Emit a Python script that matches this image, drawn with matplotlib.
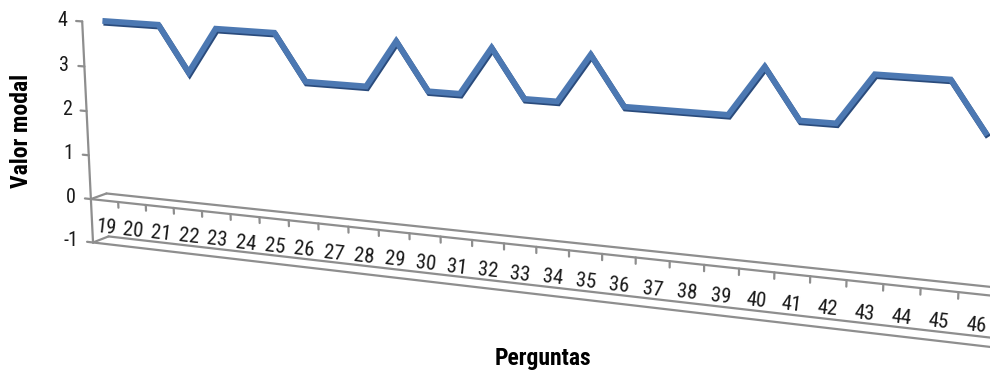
import matplotlib
matplotlib.use("Agg")
import matplotlib.pyplot as plt
import matplotlib.patheffects as pe
from mpl_toolkits.mplot3d import proj3d
import numpy as np

# Modal answer per question
perguntas = [str(n) for n in range(19, 47)]
valor_modal = [4, 4, 4, 3, 4, 4, 4, 3, 3, 3, 4, 3, 3, 4, 3, 3, 4, 3, 3, 3, 3, 4, 3, 3, 4, 4, 4, 3]
y_ticks = [-1, 0, 1, 2, 3, 4]

FONT = ["Roboto Condensed", "Liberation Sans Narrow", "DejaVu Sans"]
GREY = "#8e8e8e"
BLUE = "#4c78b2"
DARK = "#2a4b7c"

W, H = 990, 371
fig = plt.figure(figsize=(W / 100, H / 100), dpi=100)
side = W / H
ax = fig.add_axes([0.0505, (1 - side) / 2 - 0.004, 1, side],
                  projection="3d", proj_type="persp", focal_length=0.40)
ax.set_axis_off()

n = len(perguntas)
zmin, zmax = y_ticks[0], y_ticks[-1]
# the camera aims at the middle of the limits box; extra room on the right
# puts the view centre a little right of the plotted categories
x_room = 3
ax.set_xlim(0, n + x_room)
ax.set_ylim(0, 1)
ax.set_zlim(zmin, zmax)
ax.set_box_aspect((946 * (n + x_room) / n, 28, 233.6), zoom=1.11)
ax.view_init(elev=12.6, azim=-67, roll=0)


def to_px(x, y, z):
    """Project 3-D chart coordinates to figure pixels."""
    xs, ys, _ = proj3d.proj_transform(np.atleast_1d(x), np.atleast_1d(y),
                                      np.atleast_1d(z), ax.get_proj())
    return ax.transData.transform(np.column_stack([xs, ys]))


lkw = dict(color=GREY, lw=1.6, solid_capstyle="round")
# floor slab: plane at 0 and plane at the axis minimum
for z in (0, zmin):
    ax.plot([0, n], [0, 0], [z, z], **lkw)
    ax.plot([0, n], [1, 1], [z, z], **lkw)
    ax.plot([0, 0], [0, 1], [z, z], **lkw)

# value axis with ticks and labels
ax.plot([0, 0], [0, 0], [zmin, zmax], **lkw)
for t in y_ticks:
    ax.plot([-0.22, 0], [0, 0], [t, t], **lkw)
    (px, py), = to_px(-0.55, 0, t)
    fig.text(px / W, py / H, f"{t}", ha="right", va="center",
             fontsize=14.5, family=FONT, stretch="condensed", color="#1a1a1a")

# category ticks and labels
for i in range(1, n):
    ax.plot([i, i], [0, 0], [0, -0.13], **lkw)
for i, lab in enumerate(perguntas):
    (ax0, ay0), (ax1, ay1) = to_px([i, i + 1], [0, 0], [-0.62, -0.62])
    ang = np.degrees(np.arctan2(ay1 - ay0, ax1 - ax0))
    fig.text((ax0 + ax1) / 2 / W, (ay0 + ay1) / 2 / H, lab, rotation=ang,
             rotation_mode="anchor", ha="center", va="center",
             fontsize=15, family=FONT, stretch="condensed", color="#1a1a1a")

# data line
xs = np.arange(n) + 0.5
ax.plot(xs, np.full(n, 0.4), valor_modal, color=BLUE, lw=4.2,
        solid_joinstyle="miter", solid_capstyle="butt",
        path_effects=[pe.SimpleLineShadow(offset=(0.8, -1.3), shadow_color=DARK, alpha=1.0),
                      pe.Normal()])

fig.text(22 / W, 1 - 131 / H, "Valor modal", rotation=90, ha="center", va="center",
         fontsize=17, fontweight="bold", family=FONT, stretch="condensed")
fig.text(543 / W, 1 - 358 / H, "Perguntas", ha="center", va="center",
         fontsize=17, fontweight="bold", family=FONT, stretch="condensed")

fig.savefig("out.png", dpi=100)
